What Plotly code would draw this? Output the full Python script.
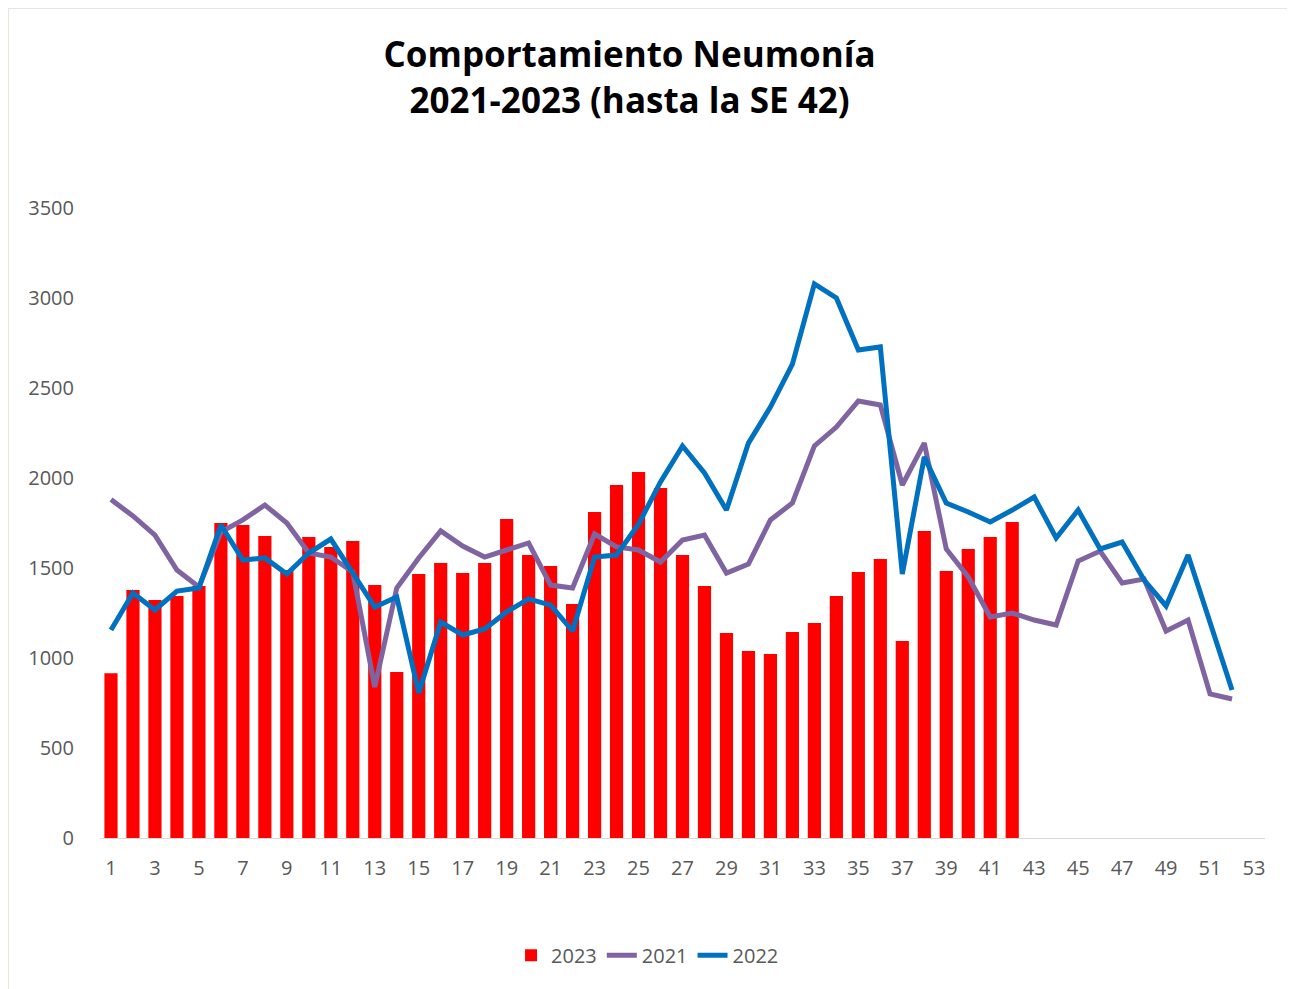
import plotly.graph_objects as go

weeks_2023 = list(range(1, 43))
cases_2023 = [915, 1378, 1322, 1344, 1400, 1750, 1739, 1678, 1489, 1672,
              1617, 1650, 1405, 922, 1467, 1528, 1472, 1528, 1772, 1572,
              1511, 1300, 1811, 1961, 2033, 1944, 1572, 1400, 1139, 1039,
              1022, 1144, 1194, 1344, 1478, 1550, 1094, 1706, 1483, 1606,
              1672, 1756]

weeks_lines = list(range(1, 53))
cases_2021 = [1880, 1789, 1683, 1489, 1394, 1700, 1767, 1850, 1750, 1583,
              1561, 1478, 839, 1389, 1556, 1706, 1622, 1561, 1600, 1639,
              1405, 1389, 1689, 1617, 1600, 1533, 1655, 1683, 1472, 1522,
              1767, 1861, 2178, 2283, 2428, 2406, 1961, 2194, 1606, 1450,
              1228, 1250, 1211, 1183, 1539, 1594, 1417, 1439, 1150, 1211,
              800, 772]
cases_2022 = [1156, 1361, 1267, 1372, 1389, 1739, 1544, 1556, 1467, 1583,
              1661, 1472, 1283, 1339, 806, 1200, 1128, 1161, 1256, 1328,
              1294, 1150, 1561, 1572, 1744, 1978, 2178, 2028, 1822, 2194,
              2394, 2633, 3078, 3000, 2711, 2728, 1467, 2117, 1861, 1811,
              1756, 1822, 1894, 1667, 1822, 1606, 1644, 1433, 1289, 1572,
              1189, 822]

x_ticks = list(range(1, 54, 2))
y_ticks = [0, 500, 1000, 1500, 2000, 2500, 3000, 3500]

L, T, PW, PH = 92, 200, 1165, 630

fig = go.Figure()
fig.add_trace(go.Bar(x=weeks_2023, y=cases_2023, name="2023",
                     marker=dict(color="#ff0000", line=dict(width=0)), width=0.6))
fig.add_trace(go.Scatter(x=weeks_lines, y=cases_2021, name="2021", mode="lines",
                         line=dict(color="#8064a2", width=5)))
fig.add_trace(go.Scatter(x=weeks_lines, y=cases_2022, name="2022", mode="lines",
                         line=dict(color="#0070c0", width=5)))

fig.add_shape(type="rect", xref="paper", yref="paper",
              x0=(0 - L) / PW, x1=(1286 - L) / PW,
              y0=(T + PH - 989) / PH, y1=(T + PH - 0) / PH,
              fillcolor="rgba(0,0,0,0)", line=dict(color="#e6e6dc", width=2), layer="below")

fig.update_layout(
    width=1295, height=989,
    paper_bgcolor="white", plot_bgcolor="white",
    margin=dict(l=L, r=1295 - L - PW, t=T, b=989 - T - PH),
    title=dict(text="Comportamiento Neumonía<br>2021-2023 (hasta la SE 42)",
               x=0.480, xanchor="center", y=0.940, yanchor="middle",
               font=dict(family="Open Sans", size=35,
                         color="black", weight="bold")),
    font=dict(family="Open Sans", color="#595959", size=20),
    bargap=0.4,
    showlegend=True,
    legend=dict(orientation="h", x=0.47, xanchor="center", y=-0.186, yanchor="middle",
                font=dict(size=20, color="#595959"), traceorder="normal",
                bgcolor="rgba(0,0,0,0)"),
    xaxis=dict(range=[0.5, 53.5], tickvals=x_ticks, ticktext=[str(t) for t in x_ticks],
               showgrid=False, zeroline=False, showline=True, linecolor="#d9d9d9",
               linewidth=1, ticks="", ticklabelstandoff=12,
               tickfont=dict(size=20, color="#595959")),
    yaxis=dict(range=[0, 3500], tickvals=y_ticks, showgrid=False, zeroline=False,
               showline=False, ticks="", ticklabelstandoff=25,
               tickfont=dict(size=20, color="#595959")),
)

fig.write_html("out.html")
